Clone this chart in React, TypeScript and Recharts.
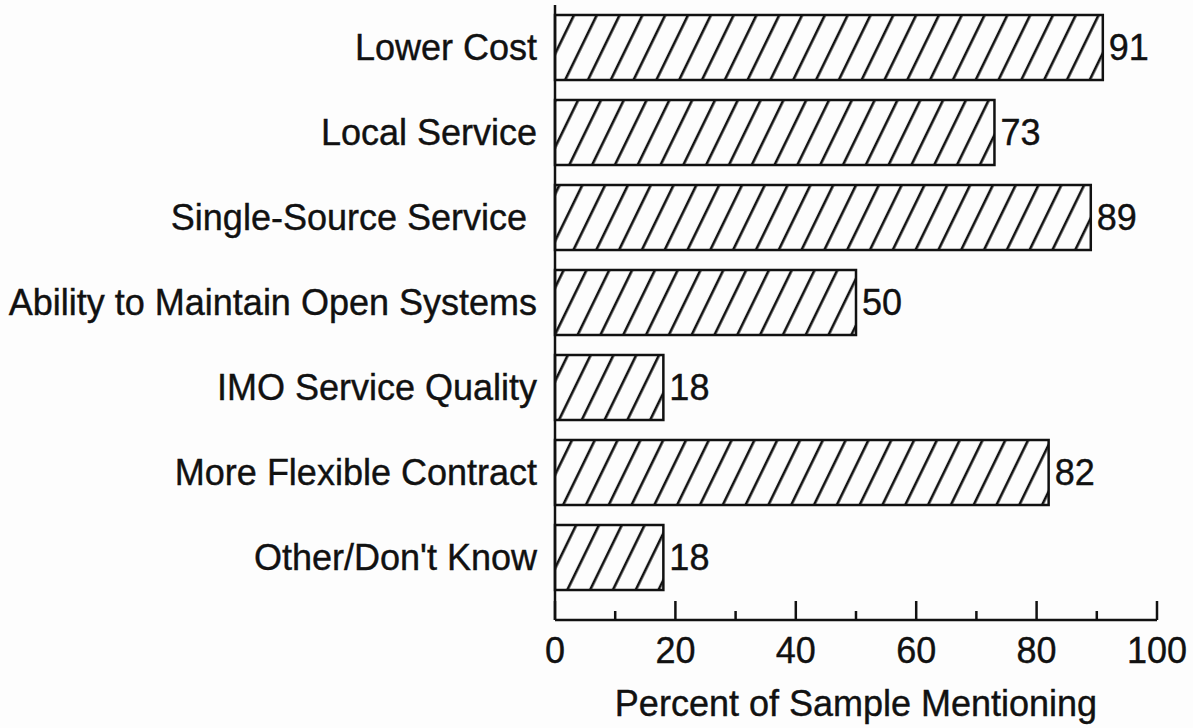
import { BarChart, Bar, XAxis, YAxis, LabelList } from "recharts";

const categories = [
  "Lower Cost",
  "Local Service",
  "Single-Source Service\u00A0",
  "Ability to Maintain Open Systems",
  "IMO Service Quality",
  "More Flexible Contract",
  "Other/Don't Know",
];
const percents = [91, 73, 89, 50, 18, 82, 18];
const xTicks = [0, 10, 20, 30, 40, 50, 60, 70, 80, 90, 100];

const data = categories.map((name, i) => ({ name, value: percents[i] }));

const FONT = "'Liberation Sans', Arial, Helvetica, sans-serif";
const INK = "#111";
const SIZE = 36;

function XTick(props: any) {
  const { x, y, payload } = props;
  const major = payload.value % 20 === 0;
  return (
    <g>
      <line x1={x} y1={y} x2={x} y2={y - (major ? 19 : 9)} stroke={INK} strokeWidth={2.5} />
      {major && (
        <text
          x={x}
          y={y + 17}
          dy="0.71em"
          textAnchor="middle"
          fontSize={SIZE}
          fontFamily={FONT}
          fill={INK}
          stroke={INK}
          strokeWidth={0.4}
        >
          {payload.value}
        </text>
      )}
    </g>
  );
}

export default function App() {
  return (
    <div style={{ position: "absolute", left: 0, top: 0, background: "#fdfdfd" }}>
      <BarChart
        width={1193}
        height={728}
        data={data}
        layout="vertical"
        margin={{ top: 5, right: 36, bottom: 0, left: 0 }}
        barSize={65}
      >
        <defs>
          <pattern
            id="hatch"
            patternUnits="userSpaceOnUse"
            width={20.5}
            height={20.5}
            patternTransform="rotate(26)"
          >
            <rect width={20.5} height={20.5} fill="#fdfdfd" />
            <line x1={10} y1={-2} x2={10} y2={23} stroke={INK} strokeWidth={2.6} />
          </pattern>
        </defs>
        <XAxis
          type="number"
          domain={[0, 100]}
          ticks={xTicks}
          interval={0}
          height={108}
          tickSize={0}
          tickMargin={0}
          tickLine={false}
          tick={<XTick />}
          axisLine={{ stroke: INK, strokeWidth: 2.5 }}
          label={{
            value: "Percent of Sample Mentioning",
            position: "insideBottom",
            offset: 12,
            fontSize: SIZE,
            fontFamily: FONT,
            fill: INK,
            stroke: INK,
            strokeWidth: 0.4,
          }}
        />
        <YAxis
          type="category"
          dataKey="name"
          width={555}
          padding={{ top: 0, bottom: 20 }}
          tickSize={0}
          tickMargin={18}
          tickLine={false}
          interval={0}
          axisLine={{ stroke: INK, strokeWidth: 2.5 }}
          tick={{ fontSize: SIZE, fontFamily: FONT, fill: INK, stroke: INK, strokeWidth: 0.4 }}
        />
        <Bar dataKey="value" fill="url(#hatch)" stroke={INK} strokeWidth={2.5} isAnimationActive={false}>
          <LabelList
            dataKey="value"
            position="right"
            offset={6}
            fontSize={SIZE}
            fontFamily={FONT}
            fill={INK}
            stroke={INK}
            strokeWidth={0.4}
          />
        </Bar>
      </BarChart>
    </div>
  );
}
